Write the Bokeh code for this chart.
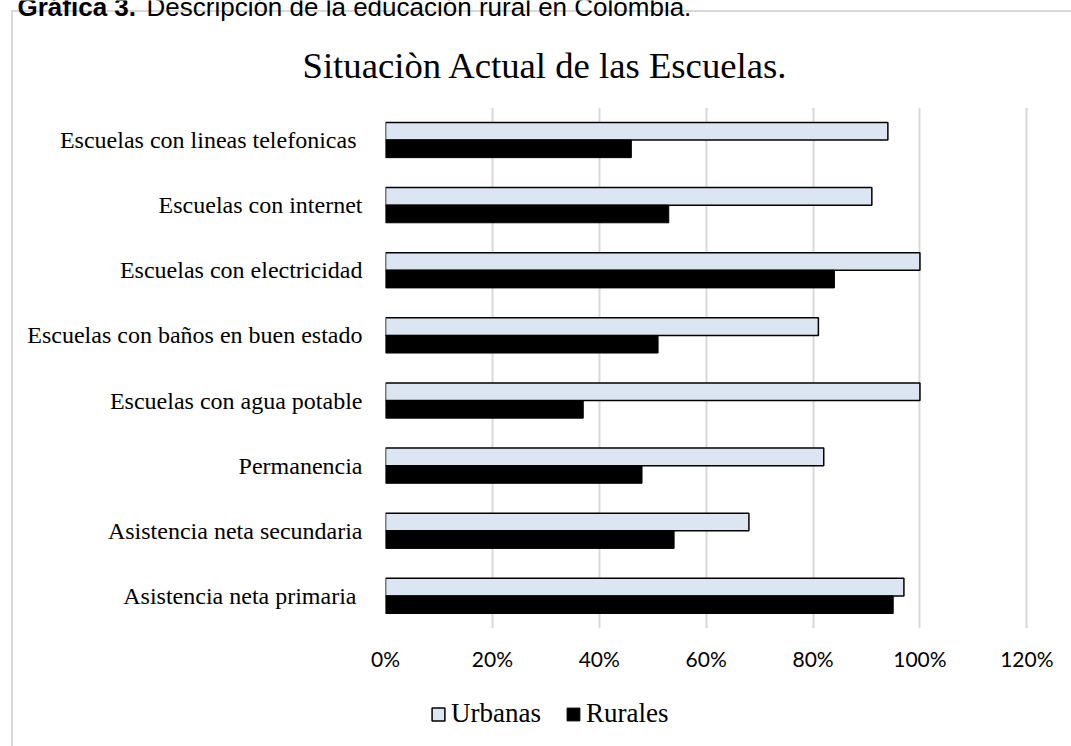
from bokeh.plotting import figure
from bokeh.layouts import column
from bokeh.models import (ColumnDataSource, FactorRange, Range1d, FixedTicker,
                          PrintfTickFormatter, Legend, LegendItem)
from bokeh.core.properties import value
from bokeh.transform import dodge
from bokeh.embed import file_html
from bokeh.resources import INLINE

# ---- data (top to bottom as in the chart) ----
categories = [
    "Escuelas con lineas telefonicas ",
    "Escuelas con internet",
    "Escuelas con electricidad",
    "Escuelas con baños en buen estado",
    "Escuelas con agua potable",
    "Permanencia",
    "Asistencia neta secundaria",
    "Asistencia neta primaria ",
]
urbanas = [94, 91, 100, 81, 100, 82, 68, 97]
rurales = [46, 53, 84, 51, 37, 48, 54, 95]
x_ticks = [0, 20, 40, 60, 80, 100, 120]
series_names = ["Urbanas", "Rurales"]
title_text = "Situaciòn Actual de las Escuelas."
caption_bold = "Gráfica 3."
caption_text = "Descripción de la educación rural en Colombia."

W = 1071
H_TOP, H_MAIN, H_BOT = 106, 572, 68
URB_FILL, RUR_FILL = "#dce6f2", "#000000"
SERIF = "Liberation Serif"

shadow_top = {"box-shadow": "inset 11px 10px 0 0 #ffffff, inset 13px 12px 0 0 #d9d9d9"}
shadow_side = {"box-shadow": "inset 11px 0 0 0 #ffffff, inset 13px 0 0 0 #d9d9d9"}


def bare(fig):
    fig.axis.visible = False
    fig.grid.visible = False
    fig.outline_line_color = None
    fig.background_fill_color = None
    fig.border_fill_color = None
    fig.min_border = 0


source = ColumnDataSource(dict(cat=categories, urbanas=urbanas, rurales=rurales))

# ---- top: caption (cut off by page top) + chart title ----
top = figure(width=W, height=H_TOP, output_backend="svg", toolbar_location=None,
             x_range=Range1d(0, W), y_range=Range1d(0, H_TOP), frame_align=False)
bare(top)
top.styles = shadow_top
top.text(x=[17], y=[H_TOP - 6.5], text=[caption_bold], text_font=value("Liberation Sans"),
         text_font_style="bold", text_font_size="26px", text_color="#000000",
         text_baseline="alphabetic", text_align="left")
top.text(x=[146], y=[H_TOP - 6.5], text=[caption_text], text_font=value("Liberation Sans"),
         text_font_size="26px", text_color="#000000",
         text_baseline="alphabetic", text_align="left")
top.text(x=[545], y=[H_TOP - 65], text=[title_text], text_font=value(SERIF),
         text_font_size="36.7px", text_color="#000000",
         text_baseline="alphabetic", text_align="center")

# ---- main chart ----
p = figure(width=W, height=H_MAIN, output_backend="svg", toolbar_location=None,
           y_range=FactorRange(factors=list(reversed(categories))),
           x_range=Range1d(0, 120.5), frame_align=False,
           min_border_left=385, min_border_right=42,
           min_border_top=1, min_border_bottom=50)
p.styles = shadow_side
p.background_fill_color = "white"
p.border_fill_color = None
p.outline_line_color = None

bh = 0.27
r_u = p.hbar(y=dodge("cat", bh / 2, range=p.y_range), right="urbanas", left=0, height=bh,
             source=source, fill_color=URB_FILL, line_color="#000000", line_width=1.5)
r_r = p.hbar(y=dodge("cat", -bh / 2, range=p.y_range), right="rurales", left=0, height=bh,
             source=source, fill_color=RUR_FILL, line_color="#000000", line_width=1)

p.ygrid.grid_line_color = None
p.xgrid.ticker = FixedTicker(ticks=x_ticks)
p.xgrid.grid_line_color = "#d9d9d9"
p.xgrid.grid_line_width = 2

p.xaxis.ticker = FixedTicker(ticks=x_ticks)
p.xaxis.formatter = PrintfTickFormatter(format="%d%%")
for ax in (p.xaxis, p.yaxis):
    ax.axis_line_color = None
    ax.major_tick_line_color = None
    ax.minor_tick_line_color = None
p.xaxis.major_label_text_font = "Lato"
p.xaxis.major_label_text_font_size = "21px"
p.xaxis.major_label_text_color = "#000000"
p.xaxis.major_label_standoff = 11
p.yaxis.major_label_text_font = SERIF
p.yaxis.major_label_text_font_size = "24px"
p.yaxis.major_label_text_color = "#000000"
p.yaxis.major_label_standoff = 17

# ---- bottom: legend (proxy renderers share the data but are hidden) ----
bot = figure(width=W, height=H_BOT, output_backend="svg", toolbar_location=None,
             x_range=Range1d(0, 120), y_range=FactorRange(factors=list(reversed(categories))),
             frame_align=False)
bare(bot)
bot.styles = shadow_side
l_u = bot.hbar(y="cat", right="urbanas", left=0, height=0.3, source=source,
               fill_color=URB_FILL, line_color="#000000", line_width=1.5, visible=False)
l_r = bot.hbar(y="cat", right="rurales", left=0, height=0.3, source=source,
               fill_color=RUR_FILL, line_color="#000000", line_width=1, visible=False)
legend = Legend(items=[LegendItem(label=series_names[0], renderers=[l_u]),
                       LegendItem(label=series_names[1], renderers=[l_r])],
                orientation="horizontal", location=(430, 17),
                label_text_font=SERIF, label_text_font_size="27px",
                label_text_color="#000000", glyph_width=16, glyph_height=16,
                label_standoff=5, spacing=24, padding=0, margin=0,
                border_line_color=None, background_fill_alpha=0)
bot.add_layout(legend, "center")

layout = column(top, p, bot, spacing=0)
open("out.html", "w").write(file_html(layout, INLINE))
